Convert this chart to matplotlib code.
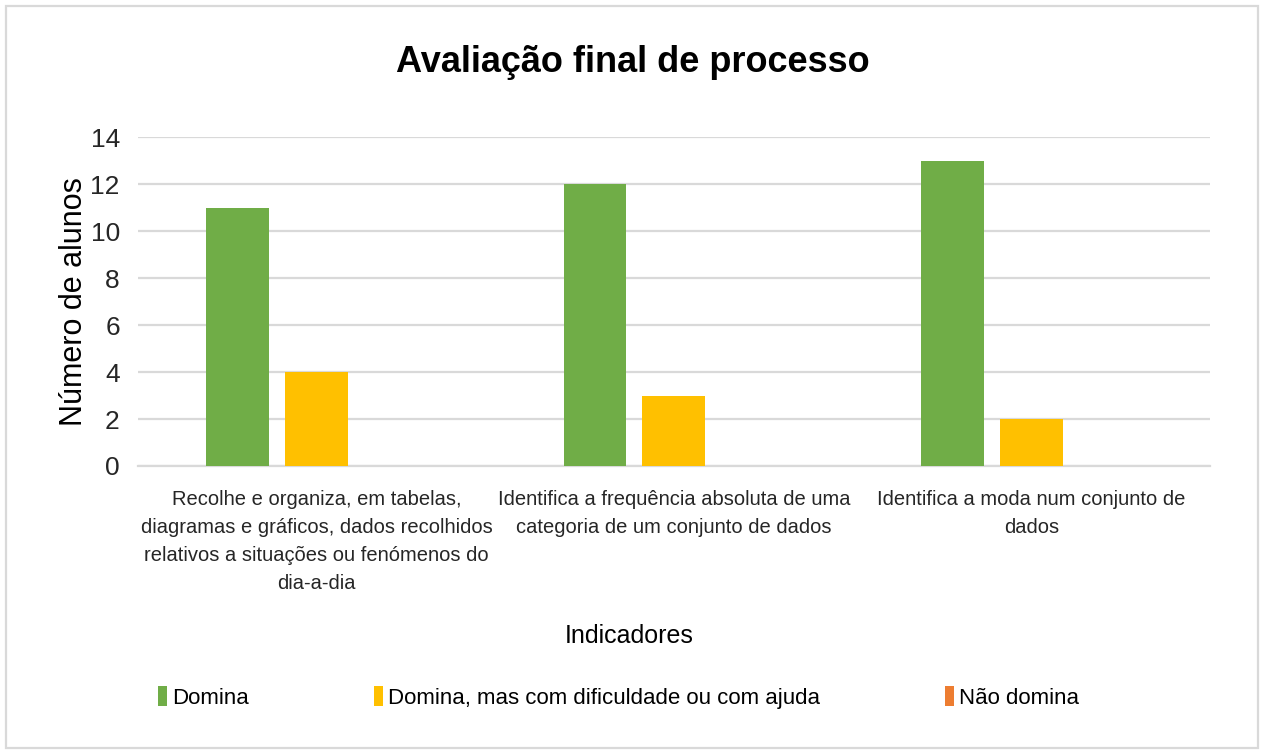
import numpy as np
import matplotlib
matplotlib.use("Agg")
import matplotlib.pyplot as plt
from matplotlib.patches import Rectangle

plt.rcParams['font.family'] = ['Liberation Sans', 'DejaVu Sans']

categories = [
    "Recolhe e organiza, em tabelas,\ndiagramas e gráficos, dados recolhidos\nrelativos a situações ou fenómenos do\ndia-a-dia",
    "Identifica a frequência absoluta de uma\ncategoria de um conjunto de dados",
    "Identifica a moda num conjunto de\ndados",
]
series = ["Domina", "Domina, mas com dificuldade ou com ajuda", "Não domina"]
domina = [11, 12, 13]
com_ajuda = [4, 3, 2]
nao_domina = [0, 0, 0]
colors = ["#70AD47", "#FFC000", "#ED7D31"]

fig = plt.figure(figsize=(12.65, 7.54), dpi=100)
ax = fig.add_axes([0.109, 0.382, 0.8475, 0.436])

x = np.arange(len(categories))
w = 0.176
step = 0.221
for i, (vals, name) in enumerate(zip([domina, com_ajuda, nao_domina], series)):
    ax.bar(x + (i - 1) * step, vals, width=w, color=colors[i], label=name, zorder=3)

ax.set_xlim(-0.5, 2.5)
ax.set_ylim(0, 14)
ax.set_yticks(range(0, 15, 2))
ax.set_xticks(x)
ax.set_xticklabels(categories, fontsize=14.5, linespacing=1.6)
ax.tick_params(axis='x', length=0, pad=17, colors='#262626')
ax.tick_params(axis='y', length=0, pad=13, labelsize=19, colors='#262626')
ax.grid(axis='y', color='#D9D9D9', linewidth=1.6, zorder=0)
for s in ['top', 'right', 'left']:
    ax.spines[s].set_visible(False)
ax.spines['bottom'].set_color('#D9D9D9')
ax.spines['bottom'].set_linewidth(1.6)

ax.set_ylabel("Número de alunos", fontsize=22, labelpad=1)
fig.text(0.5, 1 - 72 / 754, "Avaliação final de processo", fontsize=26, fontweight='bold',
         ha='center', va='baseline')
fig.text(0.497, 0.157, "Indicadores", fontsize=18, ha='center', va='center')

fig.legend(loc='center', bbox_to_anchor=(0.489, 0.075), ncol=3, frameon=False,
           fontsize=16, handlelength=0.4, handleheight=1.0, handletextpad=0.25,
           columnspacing=5.6)

fig.patches.append(Rectangle((6 / 1265, 6 / 754), 1252 / 1265, 742 / 754,
                             transform=fig.transFigure, fill=False,
                             edgecolor='#D9D9D9', linewidth=1.6))

fig.savefig("out.png", dpi=100)
